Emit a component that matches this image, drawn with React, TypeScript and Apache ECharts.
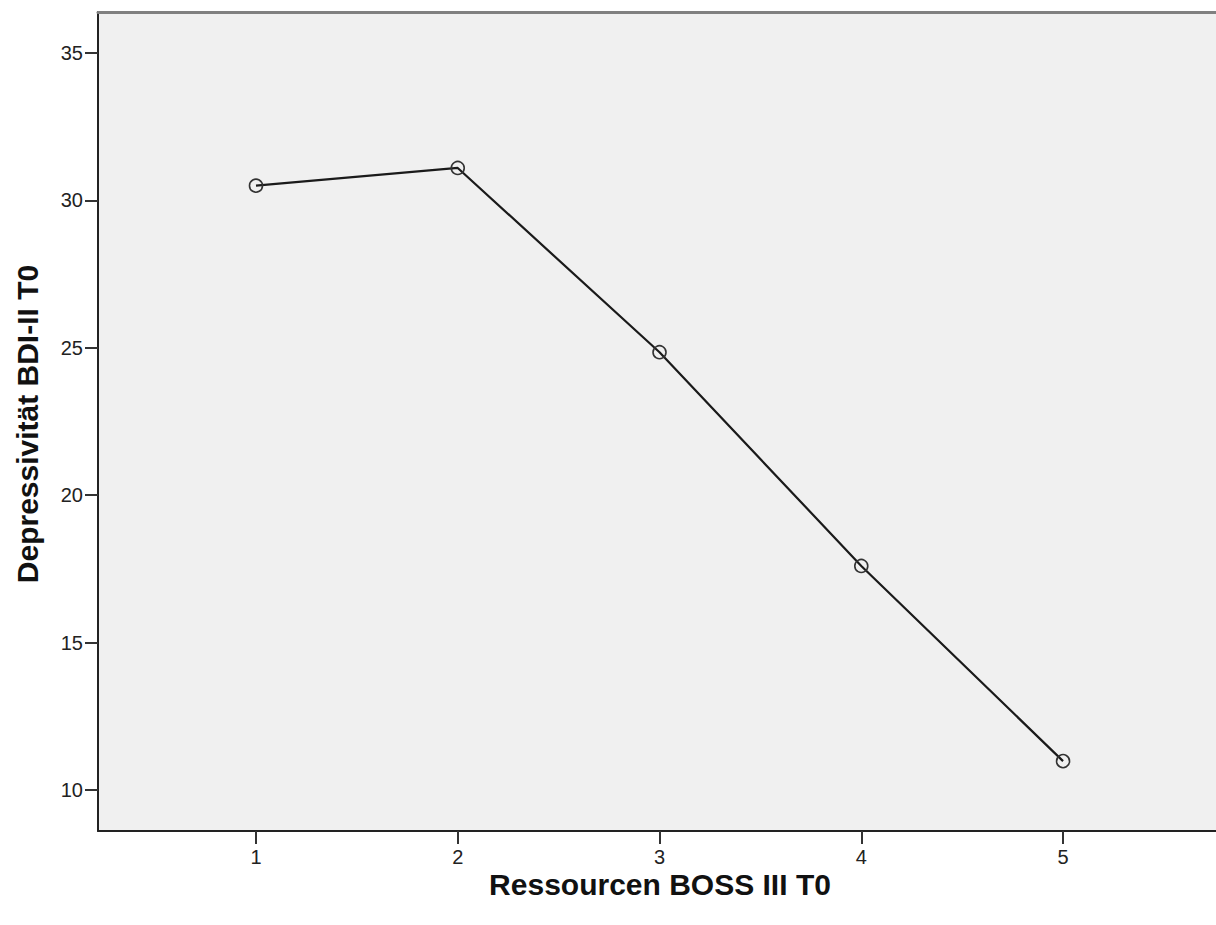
import React, { useEffect, useRef } from "react";
import * as echarts from "echarts";

const xValues = [1, 2, 3, 4, 5];
const yValues = [30.5, 31.1, 24.85, 17.6, 10.98];
const xTicks = [1, 2, 3, 4, 5];
const yTicks = [10, 15, 20, 25, 30, 35];
const xTitle = "Ressourcen BOSS III T0";
const yTitle = "Depressivität BDI-II T0";

const FONT = "'Liberation Sans', Arial, sans-serif";

export default function App() {
  const ref = useRef<HTMLDivElement>(null);
  useEffect(() => {
    if (!ref.current) return;
    const chart = echarts.init(ref.current, undefined, { renderer: "svg" });
    const data = xValues.map((x, i) => [x, yValues[i]]);
    chart.setOption({
      animation: false,
      backgroundColor: "#ffffff",
      grid: {
        left: 98,
        top: 12,
        right: 0,
        bottom: 94,
        show: true,
        backgroundColor: "#f0f0f0",
        borderWidth: 0,
      },
      xAxis: [
        {
          type: "value",
          min: 0.217,
          max: 5.758,
          axisLine: { show: true, lineStyle: { color: "#222", width: 2 } },
          axisTick: {
            show: true,
            customValues: xTicks,
            length: 13,
            lineStyle: { color: "#333", width: 2 },
          },
          axisLabel: {
            customValues: xTicks,
            fontSize: 20,
            color: "#222",
            margin: 16,
            fontFamily: FONT,
          },
          splitLine: { show: false },
        },
        {
          type: "value",
          position: "top",
          min: 0.217,
          max: 5.758,
          axisLine: { show: true, lineStyle: { color: "#808080", width: 3 } },
          axisTick: { show: false },
          axisLabel: { show: false },
          splitLine: { show: false },
        },
      ],
      yAxis: {
        type: "value",
        min: 8.61,
        max: 36.39,
        axisLine: { show: true, lineStyle: { color: "#222", width: 2 } },
        axisTick: {
          show: true,
          customValues: yTicks,
          length: 13,
          lineStyle: { color: "#333", width: 2 },
        },
        axisLabel: {
          customValues: yTicks,
          fontSize: 20,
          color: "#222",
          margin: 15,
          fontFamily: FONT,
        },
        splitLine: { show: false },
      },
      graphic: [
        {
          type: "text",
          x: 660,
          y: 884,
          style: {
            text: xTitle,
            fontSize: 30,
            fontWeight: "bold",
            fontFamily: FONT,
            fill: "#111",
            align: "center",
            verticalAlign: "middle",
          },
        },
        {
          type: "text",
          x: 27,
          y: 424,
          rotation: Math.PI / 2,
          style: {
            text: yTitle,
            fontSize: 30,
            fontWeight: "bold",
            fontFamily: FONT,
            fill: "#111",
            align: "center",
            verticalAlign: "middle",
          },
        },
      ],
      series: [
        {
          type: "line",
          xAxisIndex: 0,
          data,
          symbol: "circle",
          symbolSize: 13,
          lineStyle: { color: "#1a1a1a", width: 2.2 },
          itemStyle: {
            color: "rgba(0,0,0,0)",
            borderColor: "#333",
            borderWidth: 1.6,
          },
        },
      ],
    });
    return () => chart.dispose();
  }, []);
  return (
    <div
      ref={ref}
      style={{ position: "absolute", left: 0, top: 0, width: 1216, height: 925 }}
    />
  );
}
